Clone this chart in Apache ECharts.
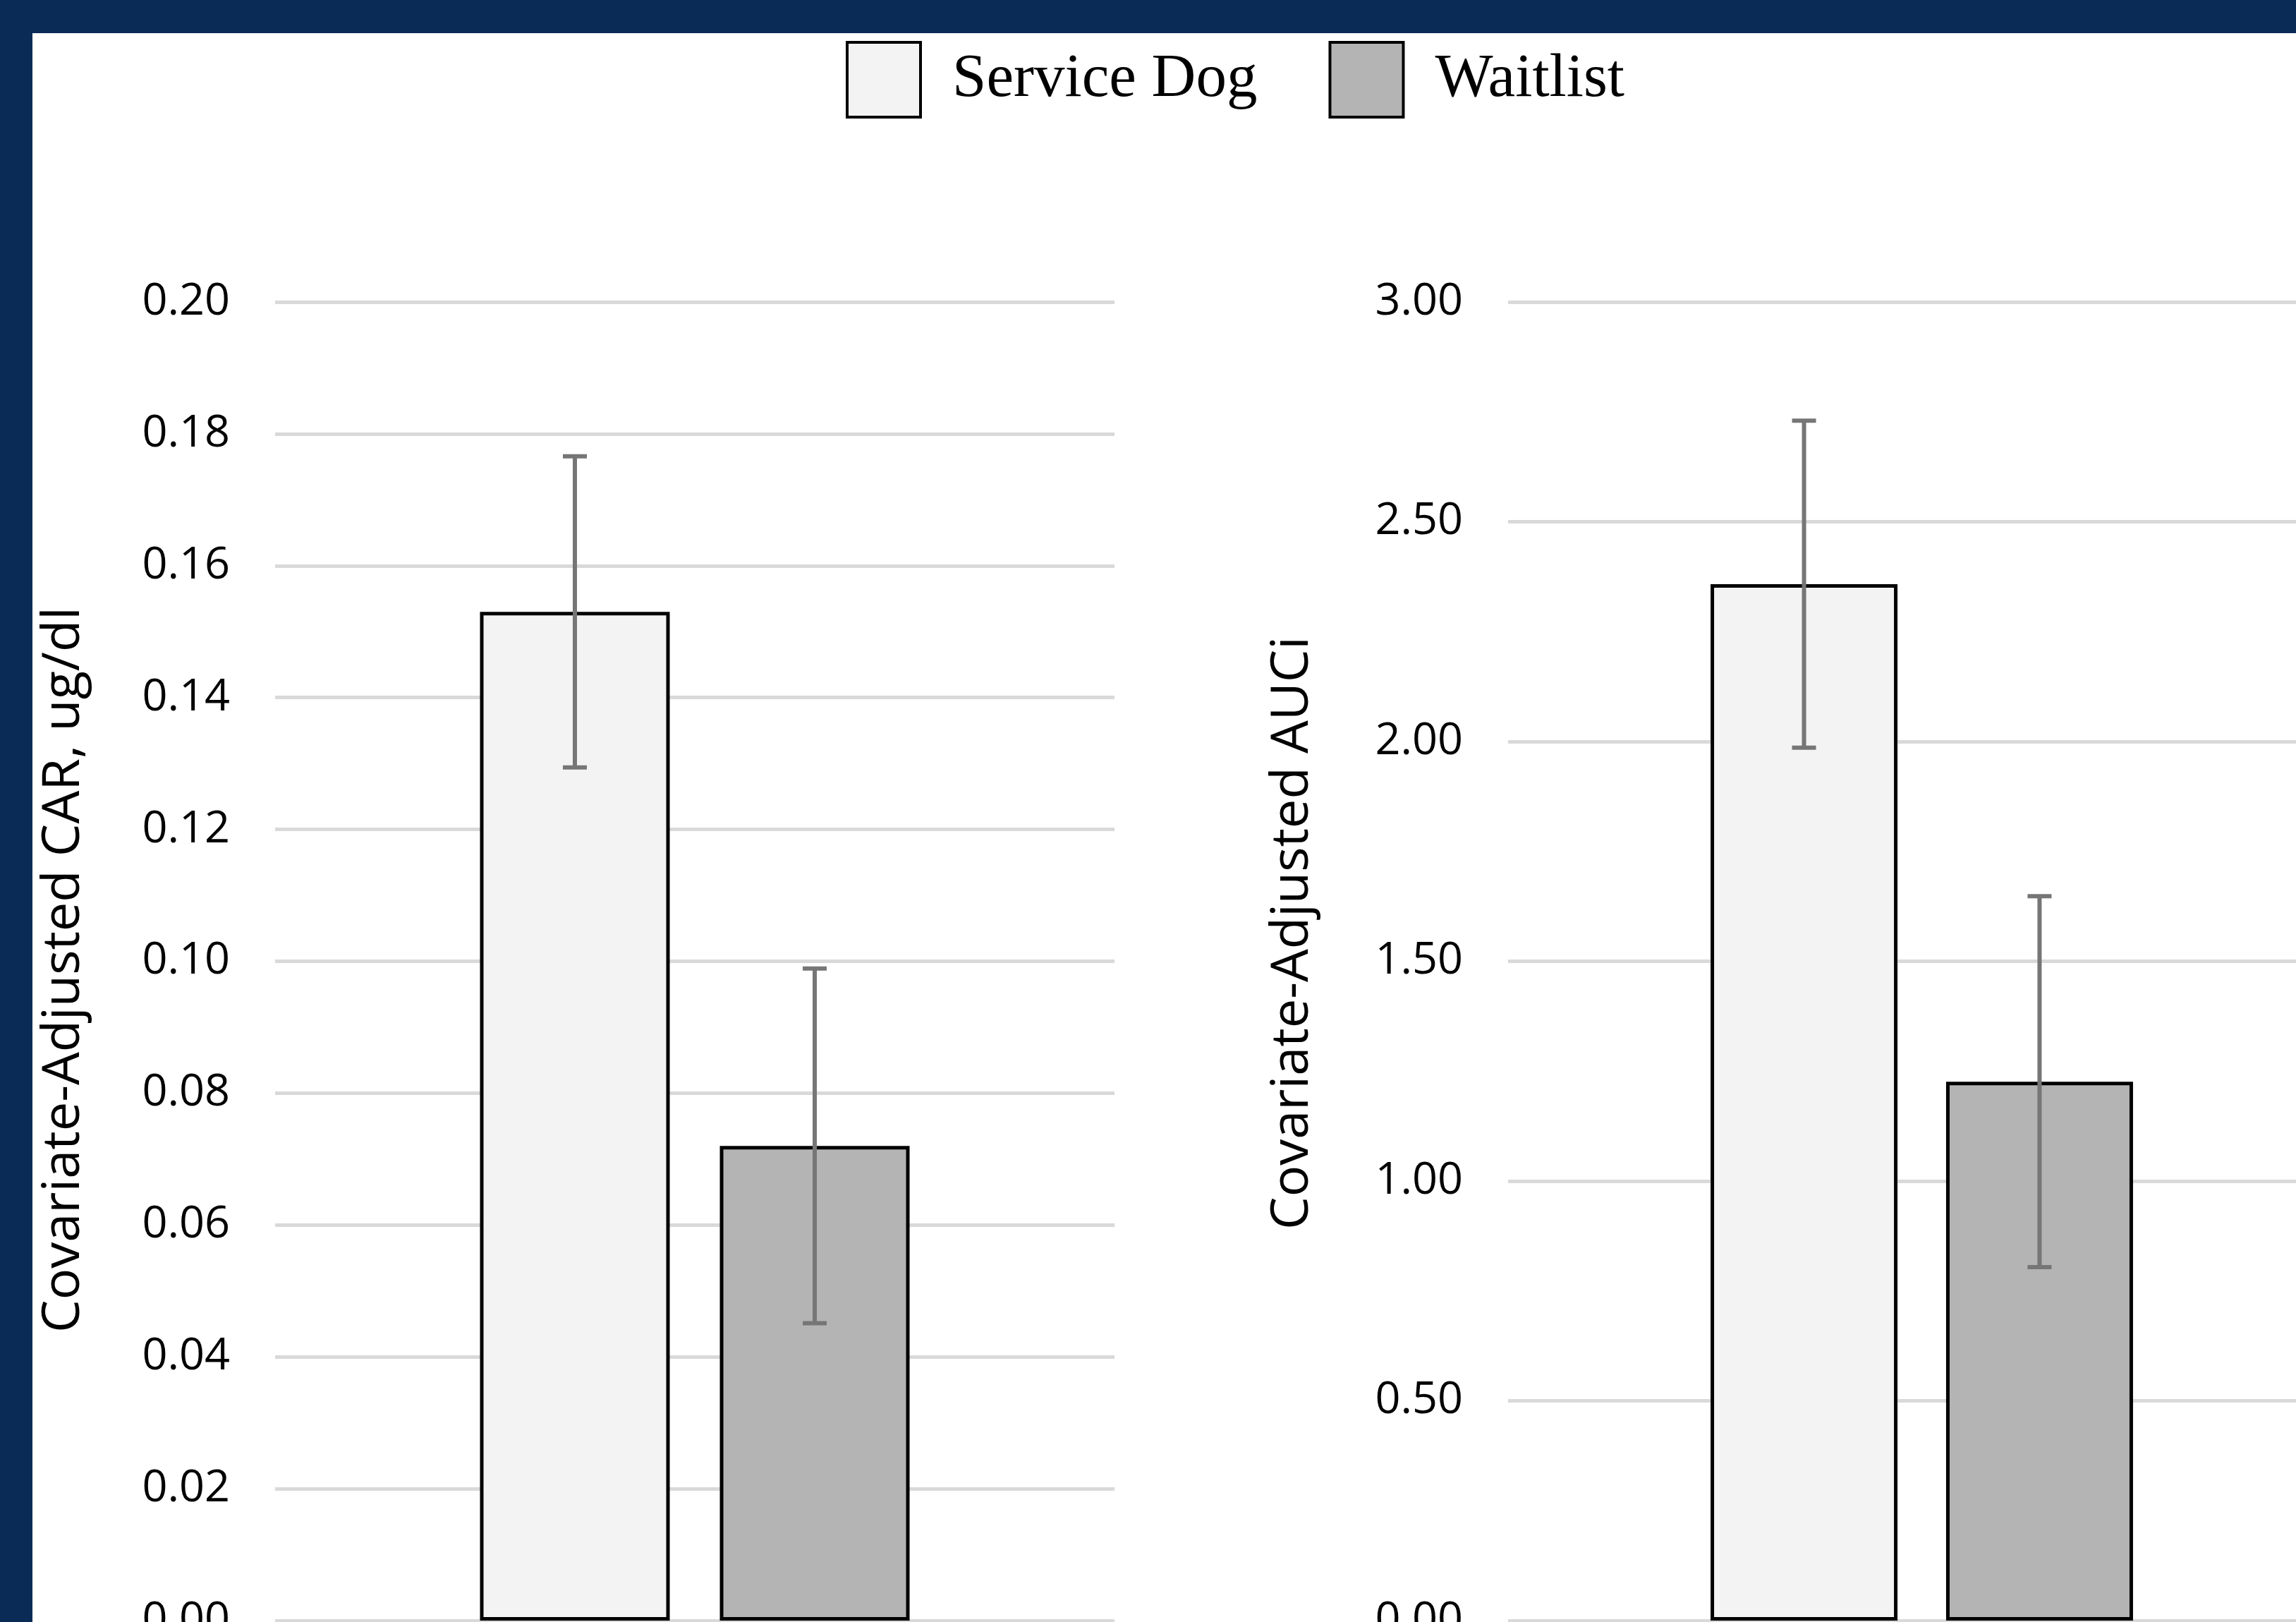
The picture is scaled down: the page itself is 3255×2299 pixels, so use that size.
<!DOCTYPE html>
<html>
<head>
<meta charset="utf-8">
<script src="https://cdn.jsdelivr.net/npm/echarts@6/dist/echarts.min.js"></script>
<style>
  html, body { margin: 0; padding: 0; background: #ffffff; overflow: hidden; }
  #chart { width: 3255px; height: 2299px; }
</style>
</head>
<body>
<div id="chart"></div>
<script>
// ---------------- DATA ----------------
const groupNames = ['Service Dog', 'Waitlist'];
const categories = ['Group'];
const carMeans = [0.153, 0.072];      // Covariate-Adjusted CAR, ug/dl
const carSE = [0.0236, 0.0269];
const auciMeans = [2.358, 1.226];     // Covariate-Adjusted AUCi
const auciSE = [0.372, 0.422];
const carTicks = { min: 0, max: 0.2, step: 0.02 };
const auciTicks = { min: 0, max: 3, step: 0.5 };
const carTitle = 'Covariate-Adjusted CAR, ug/dl';
const auciTitle = 'Covariate-Adjusted AUCi';

// ---------------- STYLE ----------------
const NAVY = '#0b2b57';
const FILLS = ['#f3f3f3', '#b4b4b4'];
const ERR_COLOR = '#767676';
const GRID_COLOR = '#d9d9d9';
const BAR_W = [269, 265];
const BAR_GAP = [0.264, 0.26];

function errSeries(gridIdx, means, se) {
  const data = means.map((m, i) => [0, m - se[i], m + se[i], i]);
  const bw = BAR_W[gridIdx];
  const step = bw + bw * BAR_GAP[gridIdx];
  return {
    type: 'custom',
    name: 'err' + gridIdx,
    xAxisIndex: gridIdx,
    yAxisIndex: gridIdx,
    z: 5,
    silent: true,
    clip: false,
    data: data,
    renderItem: function (params, api) {
      const lo = api.coord([api.value(0), api.value(1)]);
      const hi = api.coord([api.value(0), api.value(2)]);
      const k = api.value(3);
      const x = lo[0] + (k - 0.5) * step;
      const cap = 17;
      const st = { stroke: ERR_COLOR, lineWidth: 6 };
      return {
        type: 'group',
        children: [
          { type: 'line', shape: { x1: x, y1: lo[1], x2: x, y2: hi[1] }, style: st },
          { type: 'line', shape: { x1: x - cap, y1: lo[1], x2: x + cap, y2: lo[1] }, style: st },
          { type: 'line', shape: { x1: x - cap, y1: hi[1], x2: x + cap, y2: hi[1] }, style: st }
        ]
      };
    }
  };
}

function barSeries(gridIdx, means) {
  return groupNames.map((name, i) => ({
    type: 'bar',
    name: name,
    xAxisIndex: gridIdx,
    yAxisIndex: gridIdx,
    barWidth: BAR_W[gridIdx],
    barGap: (BAR_GAP[gridIdx] * 100) + '%',
    data: [means[i]],
    itemStyle: { color: FILLS[i], borderColor: '#000000', borderWidth: 5 }
  }));
}

function yAxis(gridIdx, t, title, gap, pad) {
  return {
    type: 'value',
    gridIndex: gridIdx,
    min: t.min, max: t.max, interval: t.step,
    axisLine: { show: false },
    axisTick: { show: false },
    axisLabel: {
      margin: 64,
      fontFamily: 'Open Sans', fontSize: 63, color: '#000000',
      formatter: v => v.toFixed(2)
    },
    splitLine: { lineStyle: { color: GRID_COLOR, width: 5 } },
    name: title,
    nameLocation: 'middle',
    nameGap: gap,
    nameTextStyle: { fontFamily: 'Open Sans', fontSize: 74, color: '#000000', padding: pad }
  };
}

const chart = echarts.init(document.getElementById('chart'), null, { renderer: 'canvas' });
chart.setOption({
  animation: false,
  backgroundColor: '#ffffff',
  grid: [
    { left: 390, width: 1190, top: 428, bottom: 2, containLabel: false, outerBoundsMode: 'none' },
    { left: 2138, width: 1173, top: 428, bottom: 2, containLabel: false, outerBoundsMode: 'none' }
  ],
  legend: {
    data: groupNames,
    left: 1194, top: 53,
    icon: 'rect',
    itemWidth: 104, itemHeight: 106,
    itemGap: 101,
    itemStyle: { borderColor: '#000000', borderWidth: 4 },
    textStyle: { fontFamily: 'Liberation Serif', fontSize: 87, color: '#000000', padding: [0, 0, 0, 40] }
  },
  xAxis: [0, 1].map(g => ({
    type: 'category', gridIndex: g, data: categories,
    axisLine: { show: false }, axisTick: { show: false }, axisLabel: { show: false },
    splitLine: { show: false }
  })),
  yAxis: [
    yAxis(0, carTicks, carTitle, 262, [0, 24, 0, 0]),
    yAxis(1, auciTicks, auciTitle, 268, [0, 0, 0, 80])
  ],
  graphic: [
    { type: 'rect', z: 100, shape: { x: 0, y: 0, width: 3255, height: 47 }, style: { fill: NAVY } },
    { type: 'rect', z: 100, shape: { x: 0, y: 0, width: 46, height: 2299 }, style: { fill: NAVY } }
  ],
  series: [
    ...barSeries(0, carMeans),
    ...barSeries(1, auciMeans),
    errSeries(0, carMeans, carSE),
    errSeries(1, auciMeans, auciSE)
  ]
});
</script>
</body>
</html>
